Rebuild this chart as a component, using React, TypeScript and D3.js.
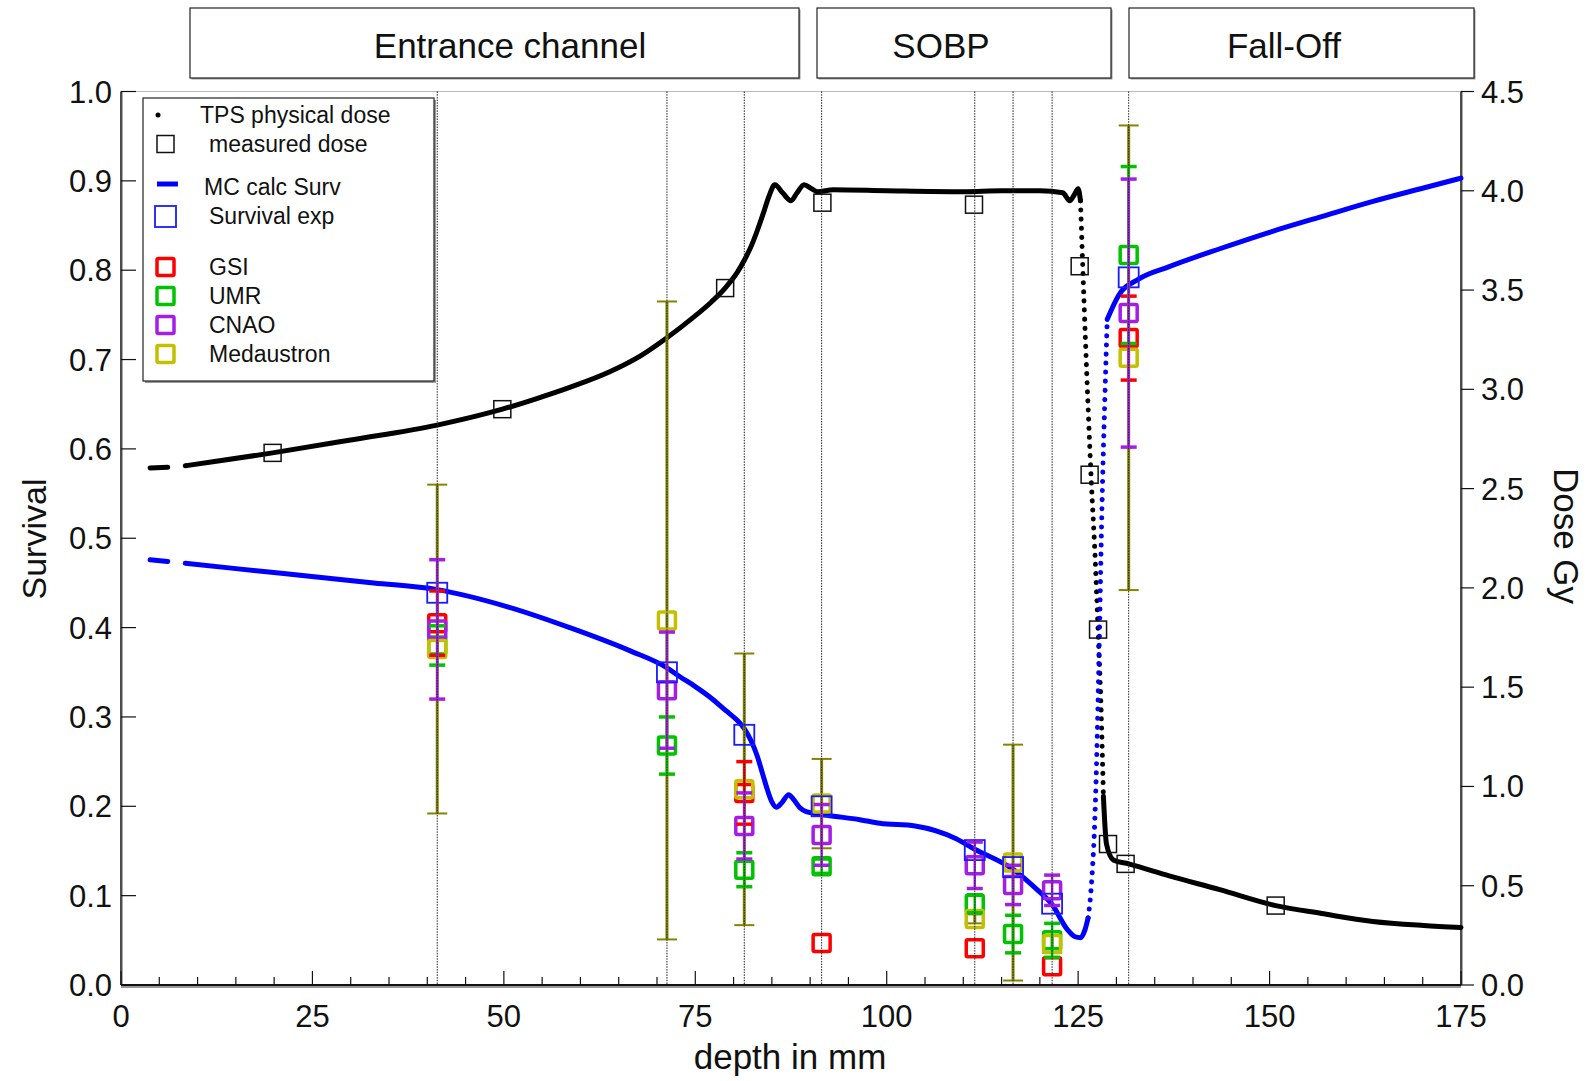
import React from "react";
import * as d3 from "d3";

// ---------- DATA ----------
const xTicks = [0, 25, 50, 75, 100, 125, 150, 175];
const survTicks = [0, 0.1, 0.2, 0.3, 0.4, 0.5, 0.6, 0.7, 0.8, 0.9, 1.0];
const doseTicks = [0, 0.5, 1, 1.5, 2, 2.5, 3, 3.5, 4, 4.5];
const regionLabels = ["Entrance channel", "SOBP", "Fall-Off"];

// TPS physical dose (depth mm, dose Gy)
const tpsLead: [number, number][] = [[3.8, 2.604], [6.1, 2.608]];
const tpsMain: [number, number][] = [
  [8.4, 2.615], [12, 2.635], [19.8, 2.68], [30, 2.745], [41.3, 2.82], [49.8, 2.9], [54, 2.95],
  [58.6, 3.01], [63.9, 3.09], [67.9, 3.17], [71.3, 3.26], [74.5, 3.355], [77.1, 3.44], [78.9, 3.51],
  [80.5, 3.59], [81.4, 3.65], [82.4, 3.73], [83.1, 3.8], [84.0, 3.9], [84.6, 3.97], [85.4, 4.03],
  [86.4, 3.99], [87.5, 3.95], [88.3, 3.99], [89.2, 4.03], [90.2, 4.01], [91.0, 3.995], [93, 4.005],
  [100, 4.0], [110, 3.995], [115, 4.0], [120, 4.0], [123, 3.99], [123.9, 3.95], [124.5, 3.98],
  [125.0, 4.01], [125.3, 3.95],
];
const tpsFall: [number, number][] = [
  [125.3, 3.95], [125.6, 3.62], [126.0, 3.2], [126.3, 2.91], [126.7, 2.55], [127.2, 2.17],
  [127.6, 1.79], [128.0, 1.38], [128.3, 0.95],
];
const tpsTail: [number, number][] = [
  [128.3, 0.95], [128.7, 0.71], [129.6, 0.63], [131.6, 0.61], [136.9, 0.55], [143.5, 0.48],
  [150.8, 0.4], [156.8, 0.36], [163.5, 0.32], [170.1, 0.3], [175, 0.29],
];

// measured dose
const measDepth = [19.8, 49.8, 78.9, 91.6, 111.4, 125.2, 126.5, 127.6, 128.9, 131.2, 150.8];
const measDose = [2.68, 2.9, 3.51, 3.94, 3.93, 3.62, 2.57, 1.79, 0.71, 0.61, 0.4];

// MC calc survival
const mcLead: [number, number][] = [[3.8, 0.476], [6.1, 0.474]];
const mcMain: [number, number][] = [
  [8.4, 0.472], [15, 0.466], [24, 0.458], [33, 0.45], [41.3, 0.4425], [50.6, 0.423], [58.6, 0.4],
  [66.5, 0.374], [71.3, 0.355], [73, 0.345], [75, 0.334], [77.1, 0.321], [79, 0.307], [80.5, 0.296],
  [81.4, 0.287], [82.3, 0.273], [83.1, 0.256], [83.8, 0.236], [84.4, 0.219], [85.0, 0.205],
  [85.6, 0.199], [86.3, 0.204], [87.2, 0.213], [87.8, 0.208], [88.6, 0.199], [89.5, 0.194],
  [92.2, 0.19], [96.5, 0.185], [99.1, 0.181], [103.7, 0.178], [109, 0.164], [111.5, 0.152],
  [116.4, 0.13], [119.6, 0.107], [121.6, 0.09], [123.6, 0.062], [124.6, 0.054], [125.3, 0.053],
  [125.9, 0.062], [126.3, 0.075],
];
const mcRise: [number, number][] = [
  [126.3, 0.075], [126.8, 0.12], [127.2, 0.19], [127.5, 0.28], [127.8, 0.4], [128.1, 0.53],
  [128.5, 0.66], [128.8, 0.745],
];
const mcTail: [number, number][] = [
  [128.8, 0.745], [130.3, 0.772], [132.9, 0.79], [136.9, 0.804], [143.5, 0.824], [150.2, 0.843],
  [156.8, 0.86], [163.5, 0.877], [170.1, 0.892], [175, 0.903],
];

// experiment positions (depth mm)
const labDepths = [41.3, 71.3, 81.4, 91.5, 111.5, 116.5, 121.6, 131.6];
const survExp = [0.439, 0.35, 0.28, 0.2, 0.151, 0.132, 0.091, 0.792];
const gsiVal = [0.405, null, 0.215, 0.047, 0.041, null, 0.021, 0.724];
const gsiErr = [0.036, null, 0.035, 0, 0, null, 0, 0.047];
const umrVal = [0.38, 0.268, 0.129, 0.133, 0.091, 0.057, 0.05, 0.817];
const umrErr = [0.022, 0.032, 0.019, 0.008, 0.01, 0.021, 0.019, 0.099];
const cnaoVal = [0.398, 0.33, 0.178, 0.168, 0.134, 0.112, 0.106, 0.752];
const cnaoErr = [0.078, 0.065, 0.037, 0.034, 0.026, 0.022, 0.017, 0.15];
const medVal = [0.376, 0.408, 0.219, 0.203, 0.074, 0.137, 0.046, 0.702];
const medErr = [0.184, 0.357, 0.152, 0.05, 0.005, 0.132, 0.01, 0.26];

const labs = [
  { name: "GSI", color: "#ff0000", bar: "#ff0000", vals: gsiVal, errs: gsiErr },
  { name: "UMR", color: "#00c400", bar: "#00c400", vals: umrVal, errs: umrErr },
  { name: "CNAO", color: "#a41ee8", bar: "#a41ee8", vals: cnaoVal, errs: cnaoErr },
  { name: "Medaustron", color: "#c4c000", bar: "#858300", vals: medVal, errs: medErr },
];

// ---------- LAYOUT ----------
const W = 1594;
const H = 1081;
const L = 121, R = 1461, T = 91.5, B = 985;
const FONT = "'Liberation Sans', Arial, sans-serif";

export default function App() {
  const x = d3.scaleLinear().domain([0, 175]).range([L, R]);
  const yS = d3.scaleLinear().domain([0, 1]).range([B, T]);
  const yD = d3.scaleLinear().domain([0, 4.5]).range([B, T]);

  const doseLine = d3.line<[number, number]>().x((d) => x(d[0])).y((d) => yD(d[1])).curve(d3.curveMonotoneX);
  const survLine = d3.line<[number, number]>().x((d) => x(d[0])).y((d) => yS(d[1])).curve(d3.curveMonotoneX);

  const regionBoxes = [
    { x0: 190, x1: 799, tx: 510 },
    { x0: 817, x1: 1111, tx: 941 },
    { x0: 1129, x1: 1474, tx: 1284 },
  ];

  const solid = { fill: "none", strokeWidth: 5, strokeLinejoin: "round" as const, strokeLinecap: "round" as const };
  const dotted = { fill: "none", strokeWidth: 5, strokeLinecap: "round" as const, strokeDasharray: "0.1 9" };

  const legendRows = [
    { y: 115, kind: "dot", label: "TPS physical dose", tx: 200 },
    { y: 144, kind: "blackSq", label: "measured dose", tx: 209 },
    { y: 187, kind: "dash", label: "MC calc Surv", tx: 204 },
    { y: 216, kind: "blueSq", label: "Survival exp", tx: 209 },
    { y: 267, kind: "lab", color: labs[0].color, label: "GSI", tx: 209 },
    { y: 296, kind: "lab", color: labs[1].color, label: "UMR", tx: 209 },
    { y: 325, kind: "lab", color: labs[2].color, label: "CNAO", tx: 209 },
    { y: 354, kind: "lab", color: labs[3].color, label: "Medaustron", tx: 209 },
  ];

  const errBar = (lab: typeof labs[number], i: number, thick: boolean) => {
    const v = lab.vals[i];
    const e = lab.errs[i];
    if (v == null || e == null || e === 0) return null;
    const cx = x(labDepths[i]);
    const y0 = yS(v - e), y1 = yS(v + e);
    const cw = thick ? 8 : 10;
    const sw = thick ? 3.5 : 2;
    return (
      <g key={lab.name + "e" + i} stroke={lab.bar}>
        <line x1={cx} x2={cx} y1={y0} y2={y1} strokeWidth={thick ? 2.5 : 3} />
        <line x1={cx - cw} x2={cx + cw} y1={y0} y2={y0} strokeWidth={sw} />
        <line x1={cx - cw} x2={cx + cw} y1={y1} y2={y1} strokeWidth={sw} />
      </g>
    );
  };

  return (
    <svg width={W} height={H} style={{ position: "absolute", left: 0, top: 0, background: "#fff" }} fontFamily={FONT}>
      <rect x={0} y={0} width={W} height={H} fill="#fff" />

      {/* region boxes */}
      {regionBoxes.map((b, i) => (
        <g key={"rb" + i}>
          <rect x={b.x0 + 1.5} y={9.5} width={b.x1 - b.x0} height={70} fill="#9a9a9a" />
          <rect x={b.x0} y={8} width={b.x1 - b.x0} height={70} fill="#fff" stroke="#222" strokeWidth={1.2} />
          <text x={b.tx} y={58} textAnchor="middle" fontSize={35} fill="#111">
            {regionLabels[i]}
          </text>
        </g>
      ))}

      {/* frame */}
      <line x1={L} x2={R} y1={T} y2={T} stroke="#bbb" strokeWidth={1} />
      <line x1={L + 1.5} x2={L + 1.5} y1={T} y2={B} stroke="#aaa" strokeWidth={1} />
      <line x1={L} x2={L} y1={T} y2={B} stroke="#111" strokeWidth={1.5} />
      <line x1={R + 1.5} x2={R + 1.5} y1={T} y2={B} stroke="#aaa" strokeWidth={1} />
      <line x1={R} x2={R} y1={T} y2={B} stroke="#111" strokeWidth={1.5} />
      <line x1={L} x2={R} y1={B + 2} y2={B + 2} stroke="#999" strokeWidth={2} />
      <line x1={L} x2={R} y1={B} y2={B} stroke="#111" strokeWidth={2} />

      {/* x ticks */}
      {d3.range(0, 176, 5).map((t) => (
        <line key={"xt" + t} x1={x(t)} x2={x(t)} y1={B} y2={B - (t % 25 === 0 ? 14 : 8)} stroke="#111" strokeWidth={1.2} />
      ))}
      {xTicks.map((t) => (
        <text key={"xl" + t} x={x(t)} y={1027} textAnchor="middle" fontSize={31} fill="#111">{t}</text>
      ))}
      <text x={790} y={1069} textAnchor="middle" fontSize={35} fill="#111">depth in mm</text>

      {/* left axis */}
      {survTicks.map((t) => (
        <g key={"ys" + t}>
          <line x1={L} x2={L + 15} y1={yS(t)} y2={yS(t)} stroke="#111" strokeWidth={1.2} />
          <text x={112} y={yS(t) + 11} textAnchor="end" fontSize={31} fill="#111">{t.toFixed(1)}</text>
        </g>
      ))}
      <text transform={`translate(46,539) rotate(-90)`} textAnchor="middle" fontSize={34} fill="#111">Survival</text>

      {/* right axis */}
      {doseTicks.map((t) => (
        <g key={"yd" + t}>
          <line x1={R} x2={R + 13} y1={yD(t)} y2={yD(t)} stroke="#111" strokeWidth={1.2} />
          <text x={1481} y={yD(t) + 11} textAnchor="start" fontSize={31} fill="#111">{t.toFixed(1)}</text>
        </g>
      ))}
      <text transform={`translate(1554,536) rotate(90)`} textAnchor="middle" fontSize={35} fill="#111">Dose Gy</text>

      {/* curves */}
      <path d={doseLine(tpsLead) || ""} stroke="#000" {...solid} />
      <path d={doseLine(tpsMain) || ""} stroke="#000" {...solid} />
      <path d={doseLine(tpsFall) || ""} stroke="#000" {...dotted} />
      <path d={doseLine(tpsTail) || ""} stroke="#000" {...solid} />

      <path d={survLine(mcLead) || ""} stroke="#0000ff" {...solid} />
      <path d={survLine(mcMain) || ""} stroke="#0000ff" {...solid} />
      <path d={survLine(mcRise) || ""} stroke="#0000ff" {...dotted} />
      <path d={survLine(mcTail) || ""} stroke="#0000ff" {...solid} />

      {/* measured dose squares */}
      {measDepth.map((d, i) => (
        <rect key={"md" + i} x={x(d) - 8.5} y={yD(measDose[i]) - 8.5} width={17} height={17} fill="none" stroke="#111" strokeWidth={1.5} />
      ))}

      {/* Medaustron error bars (behind) */}
      {labDepths.map((_, i) => errBar(labs[3], i, false))}

      {/* lab squares */}
      {labs.map((lab) =>
        labDepths.map((d, i) => {
          const v = lab.vals[i];
          if (v == null) return null;
          return (
            <rect key={lab.name + "s" + i} x={x(d) - 8.5} y={yS(v) - 8.5} width={17} height={17} rx={1.5}
              fill="none" stroke={lab.color} strokeWidth={3.5} />
          );
        })
      )}

      {/* survival exp squares */}
      {labDepths.map((d, i) => (
        <rect key={"se" + i} x={x(d) - 10} y={yS(survExp[i]) - 10} width={20} height={20} fill="none" stroke="#1a1aff" strokeWidth={1.8} />
      ))}

      {/* colored error bars */}
      {labs.slice(0, 3).map((lab) => labDepths.map((_, i) => errBar(lab, i, true)))}

      {/* vertical dotted lines */}
      {labDepths.map((d, i) => (
        <line key={"vl" + i} x1={x(d)} x2={x(d)} y1={T} y2={B} stroke="#222" strokeWidth={1} strokeDasharray="1.5 1.2" />
      ))}

      {/* legend */}
      <rect x={145} y={100} width={291} height={283} fill="#9a9a9a" />
      <rect x={143} y={98} width={291} height={283} fill="#fff" stroke="#222" strokeWidth={1.2} />
      {legendRows.map((r, i) => (
        <g key={"lg" + i}>
          {r.kind === "dot" && <circle cx={158} cy={r.y} r={2.5} fill="#000" />}
          {r.kind === "blackSq" && <rect x={157} y={r.y - 8.5} width={17} height={17} fill="none" stroke="#111" strokeWidth={1.5} />}
          {r.kind === "dash" && <line x1={157} x2={178} y1={r.y - 3} y2={r.y - 3} stroke="#0000ff" strokeWidth={5} />}
          {r.kind === "blueSq" && <rect x={155} y={r.y - 10} width={21} height={21} fill="none" stroke="#1a1aff" strokeWidth={1.8} />}
          {r.kind === "lab" && <rect x={157} y={r.y - 8.5} width={17} height={17} rx={1.5} fill="none" stroke={r.color} strokeWidth={3.5} />}
          <text x={r.tx} y={r.y + 8} fontSize={23} fill="#111">{r.label}</text>
        </g>
      ))}
    </svg>
  );
}
